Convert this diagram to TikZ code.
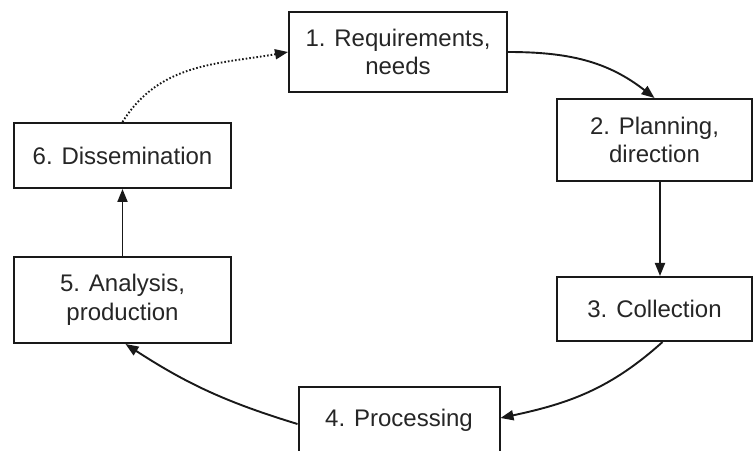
\documentclass[tikz,border=0pt]{standalone}
\usepackage{fontspec}
\setmainfont{Liberation Sans}
\usetikzlibrary{arrows.meta}
\begin{document}
\begin{tikzpicture}[x=1pt,y=1pt,
  box/.style={draw=black!90, line width=2pt, align=center, inner sep=0pt,
    text=black!85, font=\fontsize{24}{28.5}\selectfont},
  conn/.style={line width=1.9pt, draw=black!90, -{Triangle[length=13pt,width=10pt]}},
  dotconn/.style={conn, dash pattern=on 1.6pt off 2pt}]
\useasboundingbox (0,0) rectangle (754,450);
\clip (0,0) rectangle (754,450);
\fill[white] (0,0) rectangle (754,450);
\node[box, minimum width=218pt, minimum height=80pt] (b1) at (398,398) {1. Requirements,\\needs};
\node[box, minimum width=195pt, minimum height=82pt] (b2) at (654.5,310) {2. Planning,\\direction};
\node[box, minimum width=195pt, minimum height=64pt] (b3) at (654.5,141) {3. Collection};
\node[box, minimum width=201pt, minimum height=66pt] (b4) at (399,30) {\raisebox{3pt}{4. Processing}};
\node[box, minimum width=217pt, minimum height=86pt] (b5) at (122.5,150) {5. Analysis,\\production};
\node[box, minimum width=217pt, minimum height=65pt] (b6) at (122.5,294.5) {6. Dissemination};
\draw[dotconn] (b6.north) to[out=58, in=190] (b1.west);
\draw[conn] (b1.east) to[out=0, in=142] (b2.north);
\draw[conn] ([xshift=5.5pt]b2.south) -- ([xshift=5.5pt]b3.north);
\draw[conn] ([xshift=8pt]b3.south) to[out=222, in=12] ([yshift=2pt]b4.east);
\draw[conn] ([yshift=-4pt]b4.west) to[out=163, in=327] ([xshift=3pt]b5.south);
\draw[conn] (b5.north) -- (b6.south);
\end{tikzpicture}
\end{document}
